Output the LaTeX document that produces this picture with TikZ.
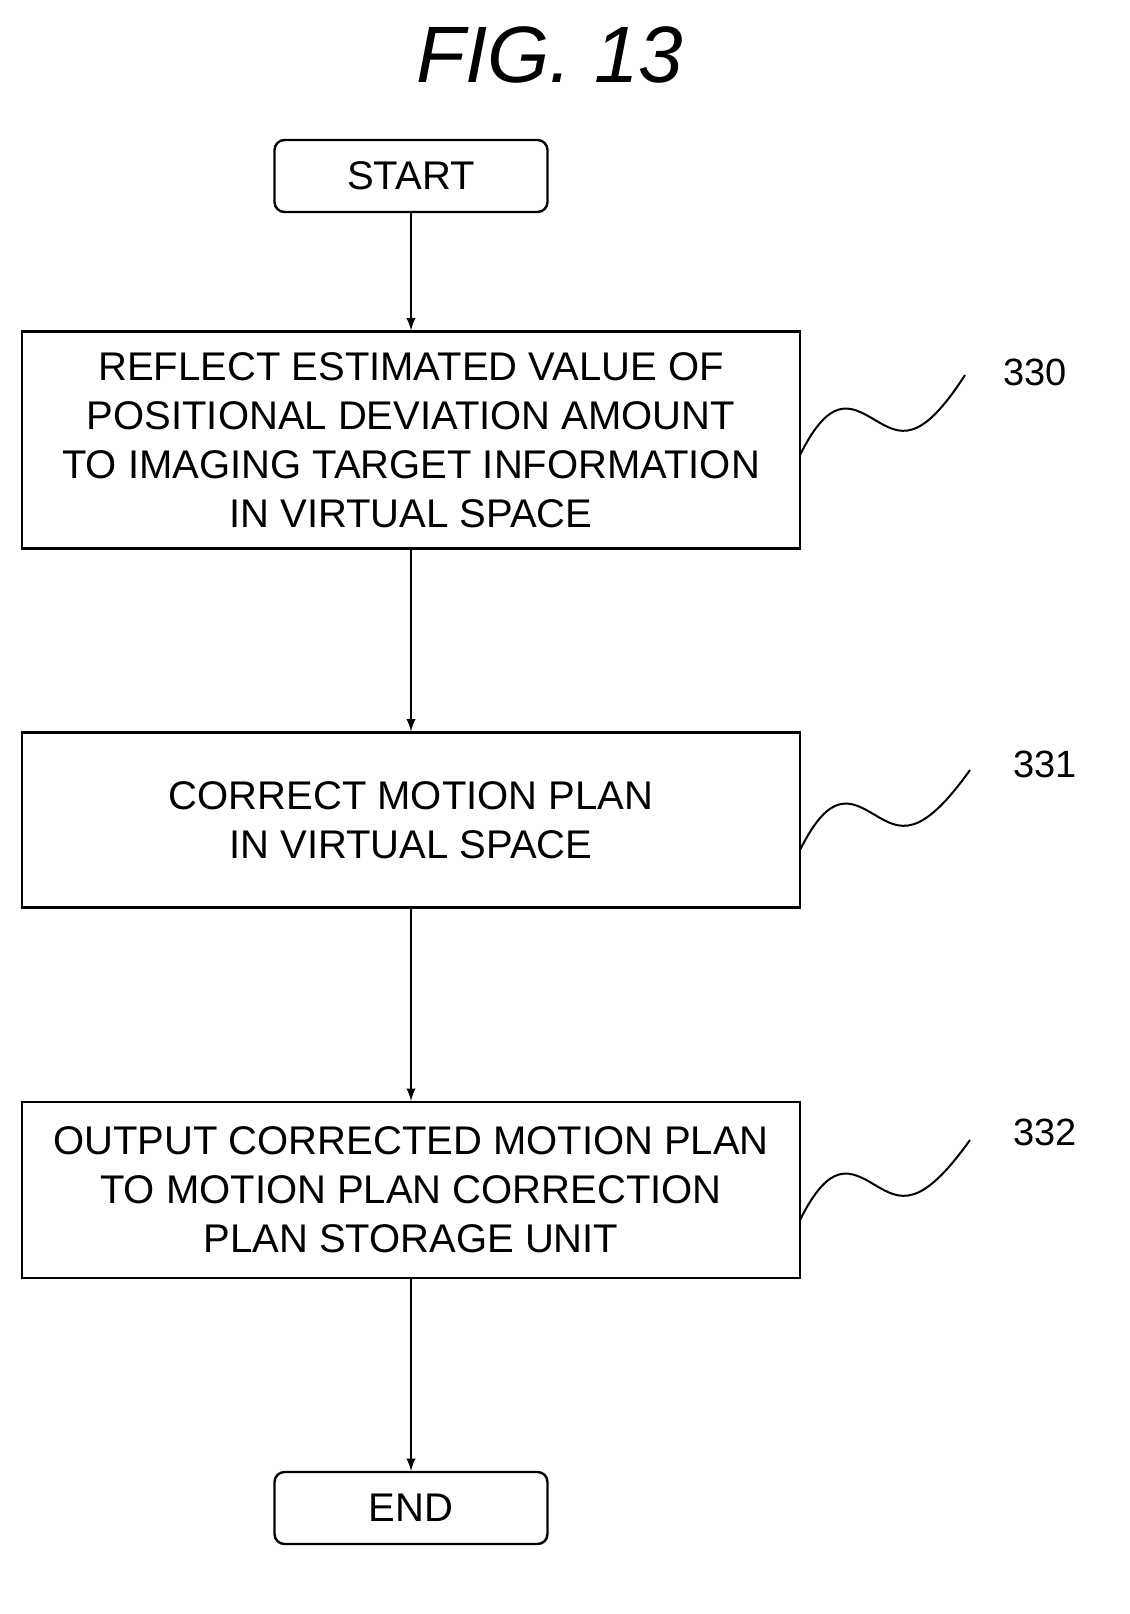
\documentclass[tikz,border=0pt]{standalone}
\usepackage{fontspec}
\setmainfont{Liberation Sans}
\begin{document}
\begin{tikzpicture}[x=0.5pt,y=-0.5pt,
 box/.style={draw,line width=1.2pt,minimum width=389pt,align=center,font=\fontsize{20}{24.5}\selectfont,inner sep=0pt},
 term/.style={draw,line width=1.2pt,rounded corners=5pt,minimum width=136.5pt,minimum height=36pt,font=\fontsize{20}{24}\selectfont},
 arr/.style={-latex,line width=1.1pt},
 lab/.style={font=\fontsize{19}{22}\selectfont},
 sq/.style={line width=1pt}]
\useasboundingbox (0,0) rectangle (1130,1614);
\node[font=\fontsize{40}{44}\itshape] (title) at (550,55) {FIG. 13};
\node[term] (start) at (411,176) {START};
\node[box,minimum height=108.5pt] (b330) at (411,440) {REFLECT ESTIMATED VALUE OF\\POSITIONAL DEVIATION AMOUNT\\TO IMAGING TARGET INFORMATION\\IN VIRTUAL SPACE};
\node[box,minimum height=87.5pt] (b331) at (411,820) {CORRECT MOTION PLAN\\IN VIRTUAL SPACE};
\node[box,minimum height=88pt] (b332) at (411,1190) {OUTPUT CORRECTED MOTION PLAN\\TO MOTION PLAN CORRECTION\\PLAN STORAGE UNIT};
\node[term] (end) at (411,1508) {END};
\draw[arr] (start) -- (b330);
\draw[arr] (b330) -- (b331);
\draw[arr] (b331) -- (b332);
\draw[arr] (b332) -- (end);
\node[lab] (l330) at (1035,372) {330};
\node[lab] (l331) at (1045,764) {331};
\node[lab] (l332) at (1045,1132) {332};
\foreach \b/\y/\ex in {b330/455/965, b331/850/970, b332/1220/970}{
 \draw[sq] (800,\y) .. controls (830,\y-60) and (850,\y-50) .. (875,\y-35)
   .. controls (900,\y-20) and (920,\y-10) .. (\ex,\y-80);
}
\end{tikzpicture}
\end{document}
